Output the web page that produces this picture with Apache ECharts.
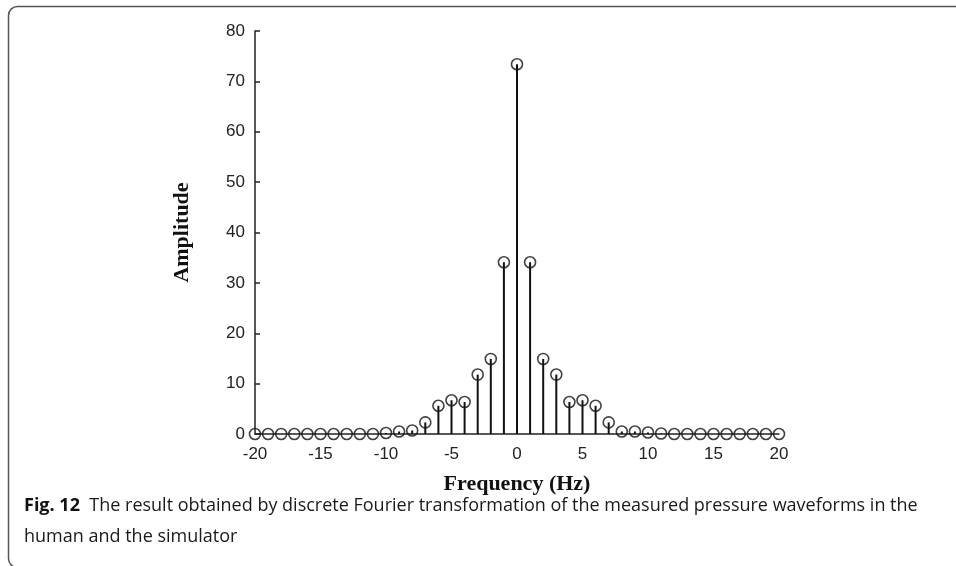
<!DOCTYPE html>
<html>
<head>
<meta charset="utf-8">
<script src="https://cdn.jsdelivr.net/npm/echarts@6/dist/echarts.min.js"></script>
<style>
html,body{margin:0;padding:0;background:#fff;}
#chart{width:956px;height:566px;}
</style>
</head>
<body>
<div id="chart"></div>
<script>
var frequencies = [-20,-19,-18,-17,-16,-15,-14,-13,-12,-11,-10,-9,-8,-7,-6,-5,-4,-3,-2,-1,0,1,2,3,4,5,6,7,8,9,10,11,12,13,14,15,16,17,18,19,20];
var amplitudes = [0,0,0,0,0,0,0,0,0,0,0.2,0.5,0.7,2.3,5.6,6.7,6.35,11.8,14.9,34.1,73.4,34.1,14.9,11.8,6.35,6.7,5.6,2.3,0.5,0.5,0.3,0.1,0,0,0,0,0,0,0,0,0];
var xTicks = [-20,-15,-10,-5,0,5,10,15,20];
var yTicks = [0,10,20,30,40,50,60,70,80];
var xLabel = 'Frequency (Hz)';
var yLabel = 'Amplitude';
var captionBold = 'Fig. 12';
var captionLine1 = 'The result obtained by discrete Fourier transformation of the measured pressure waveforms in the';
var captionLine2 = 'human and the simulator';

var points = frequencies.map(function(f, i){ return [f, amplitudes[i]]; });

var chart = echarts.init(document.getElementById('chart'));
chart.setOption({
  animation: false,
  backgroundColor: '#fff',
  grid: {left: 255, right: 177, top: 31, bottom: 132},
  xAxis: {
    type: 'value', min: xTicks[0], max: xTicks[xTicks.length-1], interval: 5,
    name: xLabel, nameLocation: 'middle', nameGap: 39,
    nameTextStyle: {fontFamily: 'Liberation Serif', fontWeight: 'bold', fontSize: 22, color: '#111'},
    axisLine: {onZero: false, lineStyle: {color: '#222', width: 1.5}},
    axisTick: {show: false},
    axisLabel: {fontFamily: 'Liberation Sans', fontSize: 17, color: '#222', margin: 12},
    splitLine: {show: false}
  },
  yAxis: {
    type: 'value', min: yTicks[0], max: yTicks[yTicks.length-1], interval: 10,
    name: yLabel, nameLocation: 'middle', nameGap: 62,
    nameTextStyle: {fontFamily: 'Liberation Serif', fontWeight: 'bold', fontSize: 22, color: '#111'},
    axisLine: {show: true, onZero: false, lineStyle: {color: '#222', width: 1.5}},
    axisTick: {show: true, inside: true, length: 5, lineStyle: {color: '#222', width: 1.5}},
    axisLabel: {fontFamily: 'Liberation Sans', fontSize: 17, color: '#222', margin: 10},
    splitLine: {show: false}
  },
  series: [
    {
      type: 'bar', data: points, barWidth: 2,
      itemStyle: {color: '#111'}, silent: true
    },
    {
      type: 'scatter', data: points, symbol: 'circle', symbolSize: 11,
      itemStyle: {color: 'rgba(255,255,255,0)', borderColor: '#111', borderWidth: 1.6},
      silent: true, z: 3
    }
  ],
  graphic: [
    {type: 'rect', shape: {x: 8.5, y: 6.5, width: 1000, height: 561, r: 9},
     style: {fill: 'none', stroke: '#555', lineWidth: 1.5}, silent: true},
    {type: 'text', left: 24, top: 497,
     style: {rich: {b: {fontFamily: 'Open Sans', fontWeight: 'bold', fontSize: 18, fill: '#111'},
                    n: {fontFamily: 'Open Sans', fontSize: 18, fill: '#1a1a1a'}},
             text: '{b|' + captionBold + '}{n|  ' + captionLine1 + '}'}},
    {type: 'text', left: 24, top: 528,
     style: {fontFamily: 'Open Sans', fontSize: 18, fill: '#1a1a1a', text: captionLine2}}
  ]
});
</script>
</body>
</html>
